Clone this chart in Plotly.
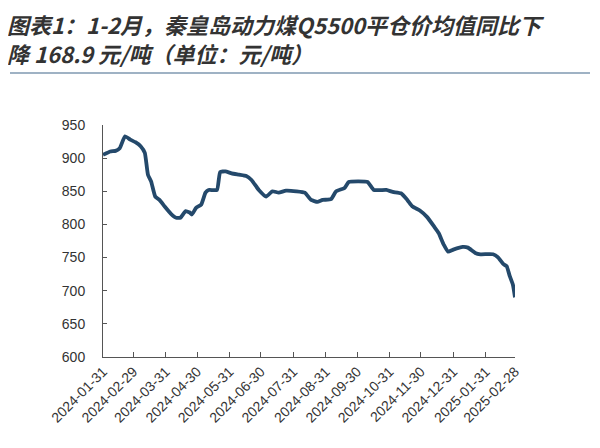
import plotly.graph_objects as go

dates = [
    "2024-01-31", "2024-02-07", "2024-02-12", "2024-02-16", "2024-02-21", "2024-02-26",
    "2024-03-02", "2024-03-07", "2024-03-11", "2024-03-14", "2024-03-17", "2024-03-21",
    "2024-03-25", "2024-03-30", "2024-04-05", "2024-04-10", "2024-04-14", "2024-04-19",
    "2024-04-23", "2024-04-25", "2024-04-29", "2024-05-04", "2024-05-08", "2024-05-11",
    "2024-05-19", "2024-05-22", "2024-05-27", "2024-06-02", "2024-06-09", "2024-06-16",
    "2024-06-21", "2024-06-28", "2024-07-05", "2024-07-11", "2024-07-17", "2024-07-24",
    "2024-08-03", "2024-08-11", "2024-08-17", "2024-08-23", "2024-08-28", "2024-09-05",
    "2024-09-10", "2024-09-18", "2024-09-22", "2024-10-10", "2024-10-16", "2024-10-28",
    "2024-11-03", "2024-11-11", "2024-11-17", "2024-11-22", "2024-11-29", "2024-12-06",
    "2024-12-13", "2024-12-17", "2024-12-22", "2024-12-26", "2024-12-31", "2025-01-09",
    "2025-01-14", "2025-01-21", "2025-01-26", "2025-02-07", "2025-02-12", "2025-02-17",
    "2025-02-20", "2025-02-23", "2025-02-26", "2025-02-28",
]
prices = [
    905, 910, 911, 915, 933, 928,
    924, 918, 908, 875, 865, 842,
    837, 827, 816, 810, 810, 820,
    818, 815, 825, 830, 848, 852,
    852, 879, 880, 877, 875, 873,
    867, 852, 842, 850, 848, 851,
    850, 848, 837, 834, 837, 838,
    850, 855, 864, 864, 852, 852,
    849, 847, 837, 827, 821, 811,
    796, 787, 769, 759, 762, 766,
    765, 757, 755, 755, 750, 740,
    737, 722, 709, 690,
]
tick_dates = [
    "2024-01-31", "2024-02-29", "2024-03-31", "2024-04-30", "2024-05-31", "2024-06-30",
    "2024-07-31", "2024-08-31", "2024-09-30", "2024-10-31", "2024-11-30", "2024-12-31",
    "2025-01-31", "2025-02-28",
]
y_ticks = [600, 650, 700, 750, 800, 850, 900, 950]
title_line1 = "图表1：1-2月，秦皇岛动力煤Q5500平仓价均值同比下"
title_line2 = "降 168.9 元/吨（单位：元/吨）"

OFF = 8  # page body margin offset
L, T = 103 - OFF, 125 - OFF
R, B = 600 - (515 - OFF), 448 - (357.5 - OFF)
PW, PH = 600 - L - R, 448 - T - B

fig = go.Figure()
fig.add_trace(go.Scatter(
    x=dates, y=prices, mode="lines",
    line=dict(color="#24496b", width=3.8, shape="spline", smoothing=0.4),
    showlegend=False,
))

fig.update_layout(
    width=600, height=448,
    margin=dict(l=L, r=R, t=T, b=B, autoexpand=False),
    paper_bgcolor="white", plot_bgcolor="white",
    font=dict(family="Liberation Sans, Arial, sans-serif", size=14, color="#333333"),
    xaxis=dict(
        type="date", range=["2024-01-31", "2025-02-28"], automargin=False,
        tickvals=tick_dates, ticktext=tick_dates,
        tickangle=-45, showgrid=False, zeroline=False,
        showline=True, linecolor="#555555", linewidth=1,
        ticks="inside", ticklen=5, tickcolor="#555555",
        tickfont=dict(size=14, color="#333333"),
    ),
    yaxis=dict(
        range=[600, 950], tickvals=y_ticks, showgrid=False, zeroline=False,
        automargin=False,
        showline=True, linecolor="#555555", linewidth=1,
        ticks="inside", ticklen=4, tickcolor="#555555",
        ticklabelstandoff=14,
        tickfont=dict(size=14, color="#333333"),
    ),
)

title_font = dict(family="Noto Sans CJK SC", size=22, color="#333333",
                  style="italic", weight="bold")
for txt, yc in ((title_line1, 23.5), (title_line2, 52.5)):
    fig.add_annotation(text=txt, xref="paper", yref="paper",
                       x=(6 - OFF - L)/PW, y=1 + (T - (yc - OFF))/PH,
                       xanchor="left", yanchor="middle", borderpad=0,
                       showarrow=False, font=title_font)
fig.add_shape(type="line", xref="paper", yref="paper",
              x0=(10 - OFF - L)/PW, x1=(590 - OFF - L)/PW,
              y0=1 + (T - (73 - OFF))/PH, y1=1 + (T - (73 - OFF))/PH,
              line=dict(color="#9fb2c4", width=2))

fig.write_html("out.html")
